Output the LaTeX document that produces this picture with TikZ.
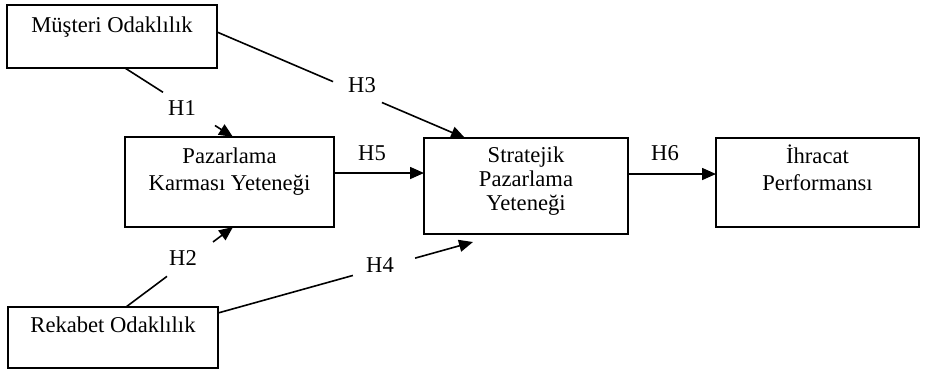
\documentclass[tikz,border=0pt]{standalone}
\usepackage{fontspec}
\setmainfont{Liberation Serif}
\usetikzlibrary{arrows.meta,calc}
\begin{document}
\begin{tikzpicture}[x=0.5pt,y=-0.5pt,
  box/.style={draw,line width=0.75pt,inner sep=0pt,outer sep=0pt},
  txt/.style={font=\fontsize{11.3}{13.5}\selectfont,align=center,inner sep=0pt},
  lbl/.style={font=\fontsize{11.3}{13.5}\selectfont,inner sep=0pt},
  con/.style={line width=0.8pt},
  arr/.style={line width=0.8pt,-{Triangle[length=7pt,width=6pt]}}]
\useasboundingbox (0,0) rectangle (938,372);
% boxes
\node[box,minimum width=105pt,minimum height=31.5pt] (mo) at (112,36.5) {};
\node[box,minimum width=104.5pt,minimum height=45pt] (pk) at (229.5,182) {};
\node[box,minimum width=102pt,minimum height=48pt] (sp) at (526,186) {};
\node[box,minimum width=101.5pt,minimum height=44.5pt] (ip) at (817.5,182.5) {};
\node[box,minimum width=105pt,minimum height=30.5pt] (ro) at (113,337.5) {};
% texts (anchor base = baseline of last line)
\node[txt,anchor=base] (mot) at (112,32) {Müşteri Odaklılık};
\node[txt,anchor=base] (pkt) at (229.5,190) {Pazarlama\\Karması Yeteneği};
\node[txt,anchor=base,font=\fontsize{11.3}{11.8}\selectfont] (spt) at (526,210) {Stratejik\\Pazarlama\\Yeteneği};
\node[txt,anchor=base] (ipt) at (817.5,190) {İhracat\\Performansı};
\node[txt,anchor=base] (rot) at (113,332) {Rekabet Odaklılık};
% labels
\node[lbl] (l1) at (182,108) {H1};
\node[lbl] (l3) at (362,85) {H3};
\node[lbl] (l5) at (372,153) {H5};
\node[lbl] (l2) at (183,258) {H2};
\node[lbl] (l4) at (380,265) {H4};
\node[lbl] (l6) at (665,153) {H6};
% endpoints
\coordinate (h1a) at ([shift={(118,0)}]mo.south west);
\coordinate (h1b) at ([shift={(108,0)}]pk.north west);
\coordinate (h3a) at ([shift={(0,-4.5)}]mo.east);
\coordinate (h3b) at ([shift={(41,0)}]sp.north west);
\coordinate (h2a) at ([shift={(118,0)}]ro.north west);
\coordinate (h2b) at ([shift={(108,0)}]pk.south west);
\coordinate (h4a) at ([shift={(0,-24.5)}]ro.east);
\coordinate (h4b) at ([shift={(49,8)}]sp.south west);
% connectors
\draw[con] (h1a) -- ($(h1a)!0.352!(h1b)$);
\draw[arr] ($(h1a)!0.833!(h1b)$) -- (h1b);
\draw[con] (h3a) -- ($(h3a)!0.468!(h3b)$);
\draw[arr] ($(h3a)!0.665!(h3b)$) -- (h3b);
\draw[con] (h2a) -- ($(h2a)!0.383!(h2b)$);
\draw[arr] ($(h2a)!0.813!(h2b)$) -- (h2b);
\draw[con] (h4a) -- ($(h4a)!0.529!(h4b)$);
\draw[arr] ($(h4a)!0.773!(h4b)$) -- (h4b);
\draw[arr] ([shift={(0,-9)}]pk.east) -- ([shift={(0,-13)}]sp.west);
\draw[arr] ([shift={(0,-12)}]sp.east) -- ([shift={(0,-8.5)}]ip.west);
\end{tikzpicture}
\end{document}
